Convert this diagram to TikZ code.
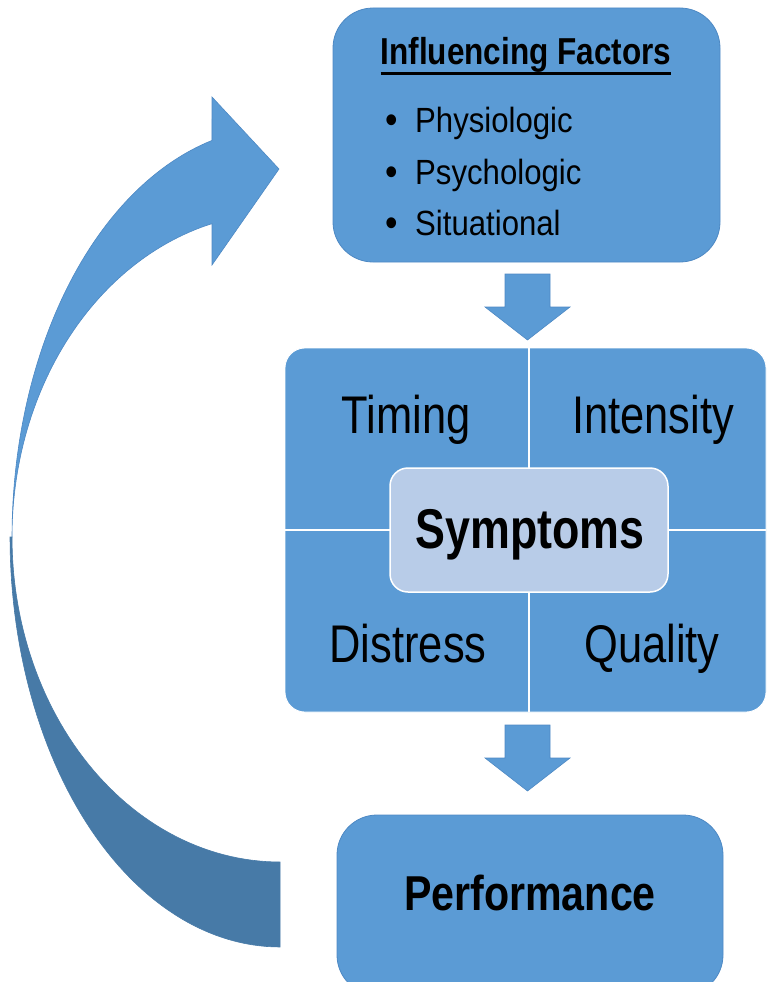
\documentclass[tikz,border=0pt]{standalone}
\usepackage{fontspec}
\setmainfont{Liberation Sans}
\newfontfamily\cellfont[FakeStretch=0.82]{Liberation Sans}
\newfontfamily\symfont[FakeStretch=0.80]{Liberation Sans}
\newfontfamily\perffont[FakeStretch=0.84]{Liberation Sans}
\newfontfamily\headfont[FakeStretch=0.84]{Liberation Sans}
\newfontfamily\listfont[FakeStretch=0.89]{Liberation Sans}
\usetikzlibrary{calc}
\definecolor{boxblue}{HTML}{5B9BD5}
\definecolor{boxedge}{HTML}{4E89C4}
\definecolor{darkblue}{HTML}{477AA7}
\definecolor{paleblue}{HTML}{B8CCE8}
\begin{document}
\begin{tikzpicture}[x=1pt,y=-1pt,
  box/.style={draw=boxedge, line width=0.8pt, fill=boxblue, rounded corners=40pt, inner sep=0pt},
  txt/.style={inner sep=0pt, anchor=base, text=black},
  blockarrow/.style={fill=boxblue, draw=boxedge, line width=0.6pt},
  listitem/.style={txt, anchor=base west, font=\listfont\fontsize{35}{40}\selectfont},
]
\useasboundingbox (0,0) rectangle (767,982);
\clip (0,0) rectangle (767,982);

% curved feedback arrow: front (light) band
\filldraw[fill=boxblue, draw=boxedge, line width=0.6pt]
  plot[domain=180:104.7, samples=60] ({280+268*cos(\x)},{537-410*sin(\x)})
  -- (212,97) -- (279,169) -- (212,265) -- (212,224)
  -- plot[domain=104.7:180, samples=60] ({280+268*cos(\x)},{537-324*sin(\x)}) -- cycle;
% back (dark) band
\filldraw[fill=darkblue, draw=darkblue, line width=0.6pt]
  plot[domain=180:90, samples=60] ({280+270*cos(\x)},{537+410*sin(\x)})
  -- (280,862)
  -- plot[domain=90:180, samples=60] ({280+268*cos(\x)},{537+325*sin(\x)}) -- cycle;

% influencing factors box
\node[box, minimum width=387pt, minimum height=254pt] (top) at (526.5,135) {};
\node[txt, font=\headfont\bfseries\fontsize{37.5}{42}\selectfont] (inf) at (526,65) {Influencing Factors};
\draw[line width=3pt] ($(inf.base west)+(0,8.5)$) -- ($(inf.base east)+(0,8.5)$);
\node[listitem] (phys) at (385,132) {\makebox[30pt][l]{\fontsize{40}{40}\selectfont\raisebox{-1.5pt}{•}}Physiologic};
\node[listitem] (psych) at (385,184) {\makebox[30pt][l]{\fontsize{40}{40}\selectfont\raisebox{-1.5pt}{•}}Psychologic};
\node[listitem] (sit) at (385,235) {\makebox[30pt][l]{\fontsize{40}{40}\selectfont\raisebox{-1.5pt}{•}}Situational};

% arrow 1
\coordinate (a1) at (527.5,274);
\filldraw[blockarrow] (a1) ++(-22.5,0) -- ++(45,0) -- ++(0,33) -- ++(20,0) -- ++(-42.5,33) -- ++(-42.5,-33) -- ++(20,0) -- cycle;

% symptoms matrix
\node[fill=boxblue, draw=white, line width=0.8pt, rounded corners=20pt, minimum width=481pt, minimum height=364pt, inner sep=0pt] (grid) at (525.5,530) {};
\draw[white, line width=2pt] (529,348) -- (529,712);
\draw[white, line width=2pt] (285,530) -- (766,530);
\node[fill=paleblue, draw=white, line width=1.5pt, rounded corners=18pt, minimum width=278pt, minimum height=124pt, inner sep=0pt] (center) at (529,530) {};
\node[txt, font=\cellfont\fontsize{53}{60}\selectfont] (timing) at (406,433) {Timing};
\node[txt, font=\cellfont\fontsize{53}{60}\selectfont] (intens) at (653,433) {Intensity};
\node[txt, font=\cellfont\fontsize{53}{60}\selectfont] (distr) at (408,662) {Distress};
\node[txt, font=\cellfont\fontsize{53}{60}\selectfont] (qual) at (652,662) {Quality};
\node[txt, font=\symfont\bfseries\fontsize{56}{64}\selectfont] (symp) at (530,548) {Symptoms};

% arrow 2
\coordinate (a2) at (527.5,725);
\filldraw[blockarrow] (a2) ++(-22.5,0) -- ++(45,0) -- ++(0,33) -- ++(20,0) -- ++(-42.5,33) -- ++(-42.5,-33) -- ++(20,0) -- cycle;

% performance box
\node[box, minimum width=386pt, minimum height=180pt] (perf) at (530,905) {};
\node[txt, font=\perffont\bfseries\fontsize{49}{56}\selectfont] (perftxt) at (530,910) {Performance};
\end{tikzpicture}
\end{document}
